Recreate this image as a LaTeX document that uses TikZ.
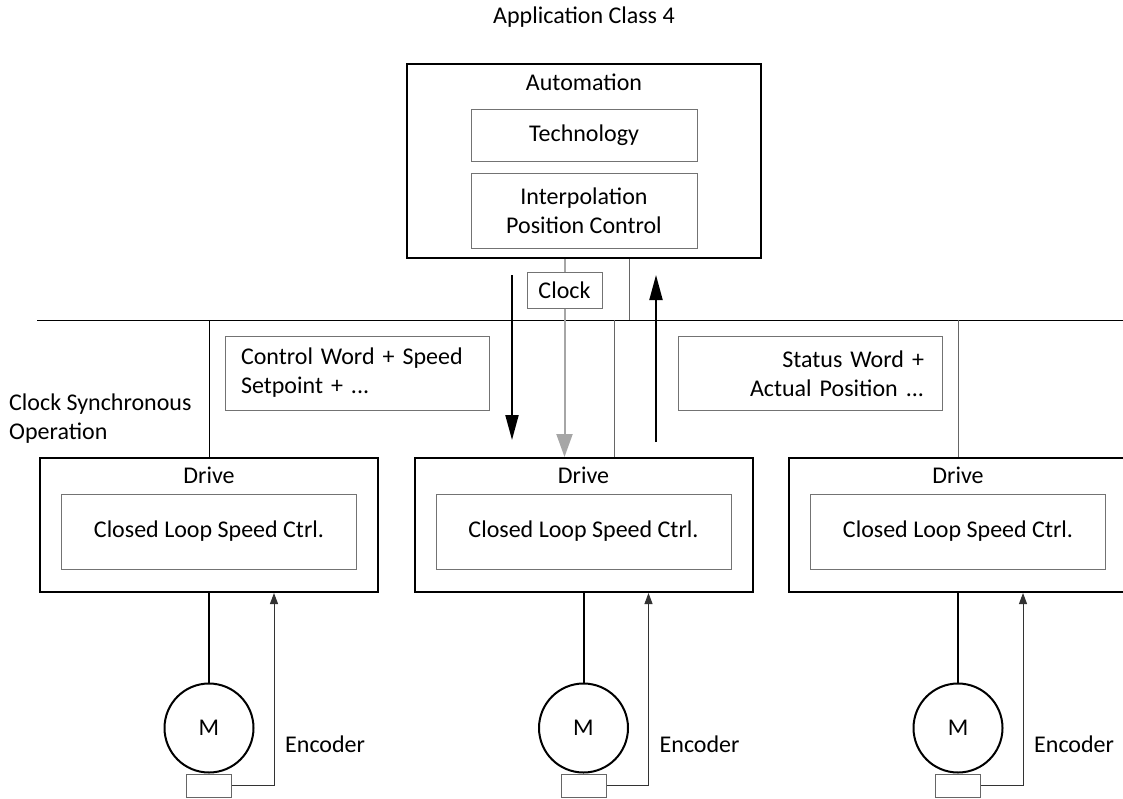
\documentclass[tikz,border=0pt]{standalone}
\usepackage{fontspec}
\setmainfont{Carlito}
\usepackage{tikz}
\usetikzlibrary{arrows.meta,positioning,calc}
\tikzset{
  mainbox/.style={draw=black, line width=2pt, inner sep=0pt},
  subbox/.style={draw=black!55, line width=1pt, inner sep=0pt, align=center},
  msgbox/.style={draw=black!55, line width=1pt, inner ysep=0pt,
    minimum width=264pt, minimum height=74pt},
  motor/.style={draw=black, line width=2pt, circle, inner sep=0pt,
    minimum size=89pt},
  encbox/.style={draw=black!60, line width=1pt, inner sep=0pt,
    minimum width=45pt, minimum height=23pt},
  lbl/.style={inner sep=0pt},
  busline/.style={line width=1pt, black},
  tapline/.style={line width=1pt, black!60},
  powerline/.style={line width=2pt, black},
  fbline/.style={line width=1pt, black!80,
    -{Triangle[width=8pt,length=11pt]}},
  dataflow/.style={line width=2pt, black,
    -{Triangle[width=13pt,length=25pt]}},
  clockflow/.style={line width=2pt, black!35,
    -{Triangle[width=16pt,length=23pt]}},
}
\newcommand{\driveunit}[2]{%
  \node[mainbox, minimum width=338pt, minimum height=134pt] (drv#1) at (#2,525) {};
  \node[lbl] (drvlbl#1) at (#2,475) {Drive};
  \node[subbox, minimum width=295pt, minimum height=75pt] (spd#1) at (#2,531.5)
    {Closed Loop Speed Ctrl.};
  \node[motor] (mot#1) at (#2,728) {M};
  \node[encbox] (enc#1) at (#2,785.5) {};
  \node[lbl, anchor=west] (enclbl#1) at (#2+76,744) {Encoder};
  \coordinate (fb#1) at (#2+65,593);
  \draw[powerline] (drv#1.south) -- (mot#1.north);
  \draw[fbline] (enc#1.east) -| (fb#1);
}

\begin{document}
\begin{tikzpicture}[x=1pt, y=-1pt, font=\fontsize{24}{29}\selectfont]
\useasboundingbox (0,0) rectangle (1123,798);

\node[lbl] (title) at (584,17) {Application Class 4};

%% Automation
\node[mainbox, minimum width=354pt, minimum height=194pt] (auto) at (584,161) {};
\node[lbl] (autolbl) at (584,82) {Automation};
\node[subbox, minimum width=226pt, minimum height=52pt] (tech) at (584,135) {Technology};
\node[subbox, minimum width=226pt, minimum height=75pt] (ipo) at (584,210.5)
  {Interpolation\\Position Control};
\node[subbox, minimum width=75pt, minimum height=36pt] (clk) at (564.5,290) {Clock};

%% Bus
\coordinate (bus_l) at (37,320);
\coordinate (bus_r) at (1123,320);
\draw[busline] (bus_l) -- (bus_r);

\node[msgbox, text width=232pt, align=left] (ctrlmsg) at (357,373)
  {Control Word + Speed\\Setpoint + ...};
\node[msgbox, text width=227pt, align=right] (statmsg) at (810.5,373.5)
  {Status Word +\\Actual Position ...};
\node[lbl, anchor=west, align=left] (cso) at (9,419)
  {Clock Synchronous\\Operation};

%% Drives
\driveunit{1}{209}
\driveunit{2}{583.5}
\driveunit{3}{958}

%% Taps
\coordinate (tap_a) at (629,320);
\coordinate (tap_d) at (614,320);
\draw[tapline] (auto.south -| tap_a) -- (tap_a);
\draw[busline] (drv1.north |- bus_l) -- (drv1.north);
\draw[tapline] (drv3.north |- bus_l) -- (drv3.north);
\draw[tapline] (tap_d) -- (tap_d |- drv2.north);

%% Clock and data
\draw[line width=2pt, black!35] (auto.south -| clk) -- (clk.north);
\draw[clockflow] (clk.south) -- (clk.south |- drv2.north);
\coordinate (sp_top) at (512,275);
\coordinate (sp_bot) at (512,440);
\coordinate (st_bot) at (656,442);
\coordinate (st_top) at (656,275);
\draw[dataflow] (sp_top) -- (sp_bot);
\draw[dataflow] (st_bot) -- (st_top);
\end{tikzpicture}
\end{document}
